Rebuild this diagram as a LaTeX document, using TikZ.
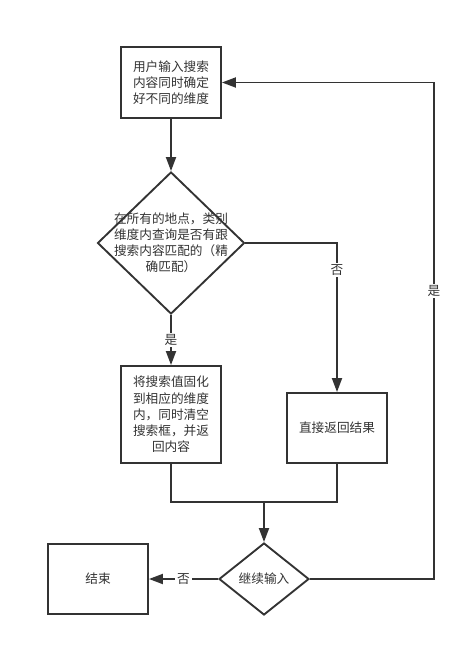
\documentclass[tikz,border=0pt]{standalone}
\usepackage{fontspec}
\newfontfamily\cjk{Noto Sans CJK SC}
\usetikzlibrary{arrows.meta,shapes.geometric}
\definecolor{ink}{HTML}{333333}

\begin{document}
\begin{tikzpicture}[
 box/.style={rectangle, draw=ink, line width=1.6pt, minimum width=3cm, text=ink, align=center, inner sep=2pt,
  font=\cjk\fontsize{10.8}{13.8}\selectfont},
 diam/.style={diamond, draw=ink, line width=1.6pt, inner sep=0pt, text=ink},
 txt/.style={text=ink, align=center, font=\cjk\fontsize{10.8}{13.8}\selectfont},
 arr/.style={-{Triangle[length=0.42cm, width=0.3cm]}, draw=ink, line width=1.6pt},
 line/.style={draw=ink, line width=1.6pt},
 lab/.style={fill=white, text=ink, inner sep=1.5pt, font=\cjk\fontsize{10.8}{13}\selectfont},
]
\useasboundingbox (0,0) rectangle (13.98,-19.38);
\node[box, minimum height=2.13cm] (input) at (5.13,-2.475) {用户输入搜索\\内容同时确定\\好不同的维度};
\node[diam, minimum width=4.41cm, minimum height=4.26cm,
 label={[txt]center:在所有的地点，类别\\维度内查询是否有跟\\搜索内容匹配的（精\\确匹配）}] (match) at (5.13,-7.29) {};
\node[box, minimum height=2.91cm] (fix) at (5.13,-12.435) {将搜索值固化\\到相应的维度\\内，同时清空\\搜索框，并返\\回内容};
\node[box, minimum height=2.1cm] (direct) at (10.11,-12.84) {直接返回结果};
\node[diam, minimum width=2.7cm, minimum height=2.16cm,
 label={[txt]center:继续输入}] (again) at (7.92,-17.37) {};
\node[box, minimum height=2.1cm] (stop) at (2.94,-17.37) {结束};
\coordinate (merge) at (7.92,-15.03);
\coordinate (loop) at (13.02,-2.475);

\draw[arr] (input) -- (match);
\draw[arr] (match) -- node[lab] (yes1) {是} (fix);
\draw[arr] (match.east) -| node[lab, pos=0.59] (no1) {否} (direct.north);
\draw[line] (fix.south) -- ++(0,-1.14) -| (direct.south);
\draw[arr] (merge) -- (again.north);
\draw[arr] (again.west) -- node[lab] (no2) {否} (stop.east);
\draw[arr] (again.east) -| node[lab, pos=0.79] (yes2) {是} (loop) -- (input.east);
\end{tikzpicture}
\end{document}
